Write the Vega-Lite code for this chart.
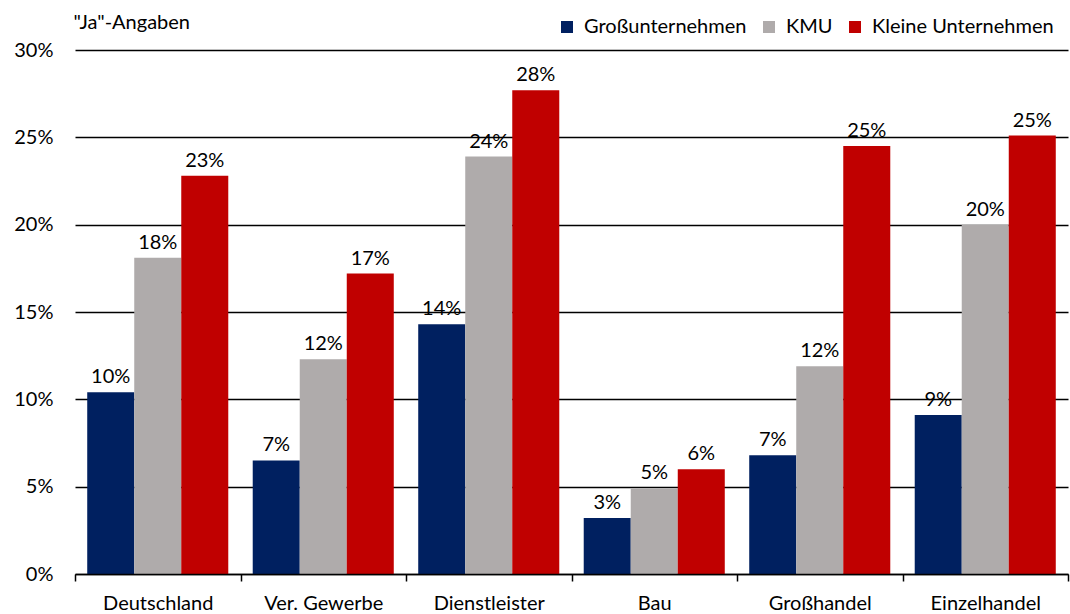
{
  "$schema": "https://vega.github.io/schema/vega-lite/v6.json",
  "autosize": "none",
  "width": 993,
  "height": 524,
  "padding": {"left": 75, "top": 50, "right": 2, "bottom": 40},
  "background": "white",
  "config": {
    "font": "Lato",
    "view": {"stroke": null}
  },
  "data": {
    "values": [
      {"branche": "Deutschland", "gruppe": "Großunternehmen", "wert": 0.104},
      {"branche": "Deutschland", "gruppe": "KMU", "wert": 0.181},
      {"branche": "Deutschland", "gruppe": "Kleine Unternehmen", "wert": 0.228},
      {"branche": "Ver. Gewerbe", "gruppe": "Großunternehmen", "wert": 0.065},
      {"branche": "Ver. Gewerbe", "gruppe": "KMU", "wert": 0.123},
      {"branche": "Ver. Gewerbe", "gruppe": "Kleine Unternehmen", "wert": 0.172},
      {"branche": "Dienstleister", "gruppe": "Großunternehmen", "wert": 0.143},
      {"branche": "Dienstleister", "gruppe": "KMU", "wert": 0.239},
      {"branche": "Dienstleister", "gruppe": "Kleine Unternehmen", "wert": 0.277},
      {"branche": "Bau", "gruppe": "Großunternehmen", "wert": 0.032},
      {"branche": "Bau", "gruppe": "KMU", "wert": 0.049},
      {"branche": "Bau", "gruppe": "Kleine Unternehmen", "wert": 0.060},
      {"branche": "Großhandel", "gruppe": "Großunternehmen", "wert": 0.068},
      {"branche": "Großhandel", "gruppe": "KMU", "wert": 0.119},
      {"branche": "Großhandel", "gruppe": "Kleine Unternehmen", "wert": 0.245},
      {"branche": "Einzelhandel", "gruppe": "Großunternehmen", "wert": 0.091},
      {"branche": "Einzelhandel", "gruppe": "KMU", "wert": 0.200},
      {"branche": "Einzelhandel", "gruppe": "Kleine Unternehmen", "wert": 0.251}
    ]
  },
  "encoding": {
    "x": {
      "field": "branche",
      "type": "nominal",
      "sort": ["Deutschland", "Ver. Gewerbe", "Dienstleister", "Bau", "Großhandel", "Einzelhandel"],
      "scale": {"paddingInner": 0, "paddingOuter": 0},
      "axis": {
        "title": null,
        "labelAngle": 0,
        "labelFontSize": 20,
        "labelColor": "#000000",
        "labelPadding": 12,
        "domainColor": "#000000",
        "domainWidth": 1.5,
        "tickColor": "#000000",
        "tickSize": 7,
        "tickWidth": 1.5,
        "tickBand": "extent",
        "grid": false,
        "zindex": 1
      }
    },
    "xOffset": {
      "field": "gruppe",
      "type": "nominal",
      "sort": ["Großunternehmen", "KMU", "Kleine Unternehmen"],
      "scale": {"paddingInner": 0, "paddingOuter": 0.26}
    },
    "y": {
      "field": "wert",
      "type": "quantitative",
      "scale": {"domain": [0, 0.3], "nice": false},
      "axis": {
        "title": "\"Ja\"-Angaben",
        "titleAngle": 0,
        "titleX": -2,
        "titleY": -22,
        "titleAlign": "left",
        "titleBaseline": "alphabetic",
        "titleFontSize": 20,
        "titleFontWeight": "normal",
        "titleColor": "#000000",
        "format": ".0%",
        "values": [0, 0.05, 0.1, 0.15, 0.2, 0.25, 0.3],
        "labelFontSize": 20,
        "labelColor": "#000000",
        "labelPadding": 22,
        "ticks": false,
        "domain": false,
        "grid": true,
        "gridColor": "#000000",
        "gridWidth": 1.3,
        "gridOpacity": 1,
        "zindex": 0
      }
    }
  },
  "layer": [
    {
      "mark": {"type": "bar"},
      "encoding": {
        "color": {
          "field": "gruppe",
          "type": "nominal",
          "sort": ["Großunternehmen", "KMU", "Kleine Unternehmen"],
          "scale": {
            "domain": ["Großunternehmen", "KMU", "Kleine Unternehmen"],
            "range": ["#002060", "#AFABAB", "#C00000"]
          },
          "legend": {
            "title": null,
            "orient": "none",
            "direction": "horizontal",
            "legendX": 482,
            "legendY": -33,
            "symbolType": "square",
            "symbolSize": 144,
            "symbolStrokeWidth": 0,
            "labelFontSize": 20,
            "labelColor": "#000000",
            "labelFont": "Lato",
            "labelLimit": 0,
            "columnPadding": 12,
            "labelOffset": 7
          }
        }
      }
    },
    {
      "mark": {"type": "text", "dy": -15, "fontSize": 20, "color": "#000000", "font": "Lato"},
      "encoding": {
        "text": {"field": "wert", "type": "quantitative", "format": ".0%"}
      }
    }
  ]
}
